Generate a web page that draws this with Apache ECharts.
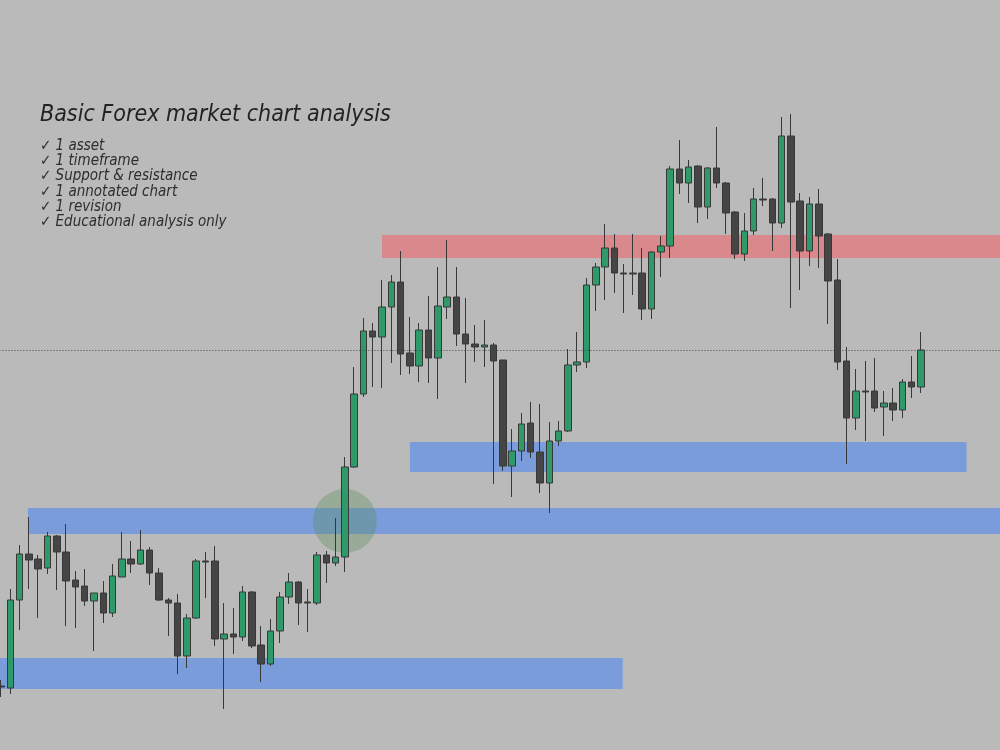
<!DOCTYPE html>
<html>
<head>
<meta charset="utf-8">
<script src="https://cdn.jsdelivr.net/npm/echarts@6/dist/echarts.min.js"></script>
<style>
html,body{margin:0;padding:0;background:#bababa;}
#chart{width:1000px;height:750px;}
</style>
</head>
<body>
<div id="chart"></div>
<script>
// ---- Text ----
const titleText = 'Basic Forex market chart analysis';
const checklist = [
  '✓ 1 asset',
  '✓ 1 timeframe',
  '✓ Support & resistance',
  '✓ 1 annotated chart',
  '✓ 1 revision',
  '✓ Educational analysis only'
];

// ---- Candles (price) ----
const openPrices = [
  150.64,150.62,151.50,151.96,151.91,151.82,152.14,151.98,151.70,151.64,
  151.49,151.57,151.37,151.73,151.91,151.86,152.00,151.77,151.50,151.47,
  150.94,151.32,151.89,151.89,151.11,151.16,151.13,151.58,151.05,150.86,
  151.19,151.53,151.68,151.48,151.47,151.95,151.87,151.93,152.83,153.56,
  154.19,154.13,154.43,154.68,153.97,153.84,154.20,153.92,154.43,154.53,
  154.16,154.06,154.03,154.05,153.90,152.84,152.99,153.27,152.98,152.67,
  153.09,153.19,153.85,153.88,154.65,154.83,155.02,154.77,154.77,154.77,
  154.41,154.98,155.04,155.81,155.67,155.84,155.43,155.82,155.67,155.38,
  154.96,155.19,155.51,155.51,155.27,156.14,155.49,154.99,155.46,155.16,
  154.70,153.89,153.32,153.59,153.59,153.43,153.47,153.40,153.68,153.63
];
const closePrices = [
  150.63,151.50,151.96,151.90,151.81,152.14,151.98,151.69,151.63,151.49,
  151.57,151.37,151.74,151.91,151.86,152.00,151.77,151.50,151.47,150.94,
  151.32,151.89,151.88,151.11,151.16,151.13,151.58,151.04,150.86,151.19,
  151.53,151.68,151.47,151.47,151.95,151.87,151.93,152.83,153.56,154.19,
  154.13,154.43,154.68,153.96,153.84,154.20,153.92,154.44,154.53,154.16,
  154.06,154.03,154.05,153.89,152.84,152.99,153.26,152.98,152.67,153.09,
  153.19,153.85,153.88,154.65,154.83,155.02,154.77,154.76,154.76,154.41,
  154.98,155.04,155.81,155.67,155.83,155.43,155.82,155.67,155.37,154.96,
  155.19,155.51,155.50,155.27,156.14,155.48,154.99,155.46,155.14,154.69,
  153.88,153.32,153.59,153.58,153.42,153.47,153.40,153.68,153.63,154.00
];
const lowPrices = [
  150.53,150.56,151.20,151.61,151.32,151.76,151.60,151.24,151.22,151.44,
  150.99,151.27,151.33,151.73,151.77,151.85,151.65,151.49,151.14,150.76,
  150.82,151.31,151.52,151.04,150.41,150.96,151.09,151.02,150.68,150.84,
  151.07,151.46,151.25,151.18,151.45,151.67,151.84,151.78,152.82,153.53,
  153.63,153.62,153.87,153.75,153.76,153.68,153.67,153.51,154.31,154.04,
  153.67,153.88,153.83,152.66,152.79,152.53,152.89,152.92,152.57,152.37,
  153.04,153.18,153.78,153.82,154.39,154.50,154.57,154.37,154.55,154.30,
  154.31,154.73,154.92,155.56,155.47,155.27,155.31,155.62,155.16,154.91,
  154.89,155.15,155.44,154.99,155.22,154.42,154.60,154.84,154.82,154.26,
  153.80,152.86,153.20,153.09,153.38,153.14,153.29,153.32,153.52,153.57
];
const highPrices = [
  150.70,151.61,152.05,152.33,151.95,152.18,152.15,152.26,151.79,151.81,
  151.57,151.69,151.86,152.18,152.09,152.20,152.03,151.82,151.52,151.56,
  151.36,151.91,151.98,152.04,151.47,151.42,151.64,151.59,151.24,151.31,
  151.58,151.77,151.69,151.61,151.98,151.99,152.32,152.93,153.83,154.32,
  154.27,154.70,154.75,154.99,154.33,154.27,154.54,154.83,155.10,154.83,
  154.52,154.25,154.30,154.07,153.90,153.21,153.37,153.48,153.46,153.28,
  153.29,154.01,154.18,154.72,154.87,155.26,155.16,154.86,155.16,155.02,
  154.99,155.14,155.84,156.10,155.90,155.85,155.83,156.23,155.68,155.39,
  155.37,155.62,155.72,155.52,156.33,156.36,155.57,155.53,155.61,155.17,
  154.91,154.03,153.81,153.89,153.92,153.59,153.62,153.71,153.94,154.18
];
const sessionCount = 108;
const sessions = Array.from({length: sessionCount}, (_, i) => 'Bar ' + (i + 1));

// ---- Zones (x in bar index units, y in price) ----
const zoneStart  = [-0.5, 2.9, 44.0, 41.0];
const zoneEnd    = [66.9, 107.5, 103.9, 107.5];
const zoneTop    = [150.92, 152.42, 153.08, 155.15];
const zoneBottom = [150.61, 152.16, 152.78, 154.92];
const zoneKind   = ['support', 'support', 'support', 'resistance'];

// ---- Breakout marker ----
const breakoutBar = [37];
const breakoutPrice = [152.29];

// ---- Build ----
const candleData = openPrices.map((o, i) => [o, closePrices[i], lowPrices[i], highPrices[i]]);
const zoneData = zoneStart.map((s, i) => [s, zoneEnd[i], zoneTop[i], zoneBottom[i], zoneKind[i] === 'resistance' ? 1 : 0]);
const markerData = breakoutBar.map((b, i) => [b, breakoutPrice[i]]);
const lastClose = closePrices[closePrices.length - 1];

const chart = echarts.init(document.getElementById('chart'), null, {renderer: 'canvas'});
chart.setOption({
  animation: false,
  backgroundColor: '#bababa',
  title: [
    {
      text: titleText,
      left: 40, top: 103, padding: 0,
      textStyle: {fontFamily: 'DejaVu Sans Condensed, DejaVu Sans', fontStyle: 'italic', fontWeight: 'normal', fontSize: 23, lineHeight: 24, color: '#222222'}
    },
    {
      text: checklist.join('\n'),
      left: 40, top: 138, padding: 0,
      textStyle: {fontFamily: 'DejaVu Sans Condensed, DejaVu Sans', fontStyle: 'italic', fontWeight: 'normal', fontSize: 15, lineHeight: 15.35, color: '#2e2e2e'}
    }
  ],
  grid: {left: -3.6, right: 0, top: 0, bottom: 0, containLabel: false, outerBoundsMode: 'none'},
  xAxis: [
    {type: 'category', data: sessions, boundaryGap: true, show: false},
    {type: 'value', min: -0.5, max: sessionCount - 0.5, show: false}
  ],
  yAxis: [
    {type: 'value', min: 150, max: 157.5, show: false, splitLine: {show: false}}
  ],
  series: [
    {
      type: 'custom',
      name: 'zones',
      xAxisIndex: 1, yAxisIndex: 0,
      z: 1,
      silent: true,
      data: zoneData,
      encode: {x: [0, 1], y: [2, 3]},
      renderItem: function (params, api) {
        const p0 = api.coord([api.value(0), api.value(2)]);
        const p1 = api.coord([api.value(1), api.value(3)]);
        const res = api.value(4) === 1;
        return {
          type: 'rect',
          shape: {x: p0[0], y: p0[1], width: p1[0] - p0[0], height: p1[1] - p0[1]},
          style: {fill: res ? '#d9888c' : '#7a9cdb'}
        };
      }
    },
    {
      type: 'custom',
      name: 'breakout',
      xAxisIndex: 1, yAxisIndex: 0,
      z: 2,
      silent: true,
      data: markerData,
      encode: {x: 0, y: 1},
      renderItem: function (params, api) {
        const c = api.coord([api.value(0), api.value(1)]);
        return {
          type: 'circle',
          shape: {cx: c[0], cy: c[1], r: 32},
          style: {fill: 'rgba(90,140,90,0.35)'}
        };
      }
    },
    {
      type: 'candlestick',
      name: 'Price',
      xAxisIndex: 0, yAxisIndex: 0,
      z: 3,
      barWidth: 7,
      data: candleData,
      itemStyle: {
        color: '#2e9a69',
        color0: '#454545',
        borderColor: '#383838',
        borderColor0: '#383838',
        borderWidth: 1
      },
      markLine: {
        silent: true,
        symbol: ['none', 'none'],
        label: {show: false},
        lineStyle: {type: [1, 2], color: '#444444', width: 1},
        data: [{yAxis: lastClose}]
      }
    }
  ]
});
</script>
</body>
</html>
